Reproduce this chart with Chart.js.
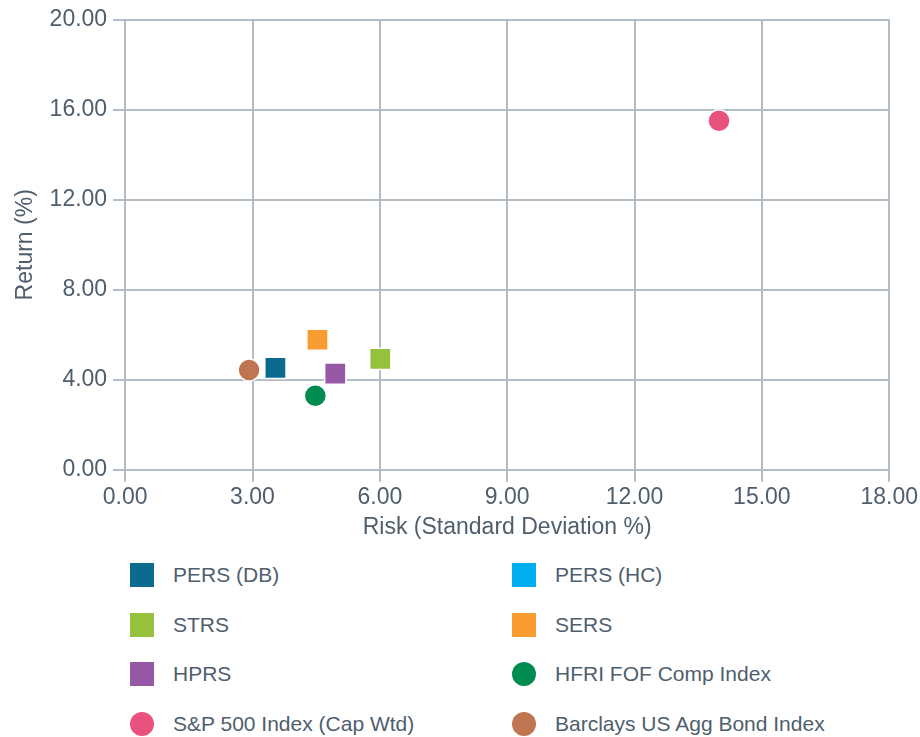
<!DOCTYPE html>
<html>
<head>
<meta charset="utf-8">
<script src="https://cdn.jsdelivr.net/npm/chart.js@4.4.0/dist/chart.umd.min.js"></script>
<style>
  body { margin: 0; background: #fff; font-family: "Liberation Sans", Arial, sans-serif; }
  #wrap { position: relative; width: 920px; height: 545px; }
  #leyenda { position: relative; width: 920px; height: 192px; }
  .item { position: absolute; display: flex; align-items: center; font-size: 21px; color: #4f5e6d; }
  .marca { width: 24px; height: 24px; margin-right: 19px; }
</style>
</head>
<body>
<div id="wrap"><canvas id="chart1"></canvas></div>
<div id="leyenda"></div>
<script>
// Series (riesgo x, retorno y)
const nombres = ['PERS (DB)', 'PERS (HC)', 'STRS', 'SERS', 'HPRS', 'HFRI FOF Comp Index', 'S&P 500 Index (Cap Wtd)', 'Barclays US Agg Bond Index'];
const riesgo = [3.54, null, 6.01, 4.53, 4.95, 4.48, 13.99, 2.92];
const retorno = [4.53, null, 4.93, 5.78, 4.27, 3.29, 15.51, 4.44];
const colores = ['#0a6b8f', '#00aeef', '#95c13d', '#f99d33', '#9657a5', '#008c50', '#e9527f', '#c07551'];
const formas = ['rect', 'rect', 'rect', 'rect', 'rect', 'circle', 'circle', 'circle'];

const ticksX = [0, 3, 6, 9, 12, 15, 18];
const ticksY = [0, 4, 8, 12, 16, 20];

const colorTexto = '#4f5e6d';
const colorGrid = '#b3bcc5';
const fuente = { size: 23, family: 'Liberation Sans' };

const datasets = nombres.map((n, i) => ({
  label: n,
  data: riesgo[i] == null ? [] : [{ x: riesgo[i], y: retorno[i] }],
  backgroundColor: colores[i],
  borderColor: '#ffffff',
  borderWidth: 1.5,
  pointStyle: formas[i],
  pointRadius: formas[i] === 'rect' ? 15 : 11,
  pointHoverRadius: 15
}));

const ctx = document.getElementById('chart1').getContext('2d');
const chart1 = new Chart(ctx, {
  type: 'scatter',
  data: { datasets },
  options: {
    responsive: true,
    maintainAspectRatio: false,
    animation: false,
    layout: { padding: { top: 8, right: 2, left: 8, bottom: 4 } },
    plugins: { legend: { display: false }, tooltip: { enabled: false } },
    scales: {
      x: {
        min: 0, max: 18,
        afterBuildTicks: ax => { ax.ticks = ticksX.map(v => ({ value: v })); },
        ticks: { color: colorTexto, font: fuente, callback: v => v.toFixed(2), maxRotation: 0, padding: 2 },
        grid: { color: colorGrid, lineWidth: 2, tickLength: 12 },
        border: { color: colorGrid, width: 2 },
        title: { display: true, text: 'Risk (Standard Deviation %)', color: colorTexto, font: fuente, padding: { top: 0, bottom: 0 } }
      },
      y: {
        min: 0, max: 20,
        afterBuildTicks: ax => { ax.ticks = ticksY.map(v => ({ value: v })); },
        ticks: { color: colorTexto, font: fuente, callback: v => v.toFixed(2), padding: 6 },
        grid: { color: colorGrid, lineWidth: 2, tickLength: 12 },
        border: { color: colorGrid, width: 2 },
        title: { display: true, text: 'Return (%)', color: colorTexto, font: fuente, padding: { bottom: 4 } }
      }
    }
  }
});

// Leyenda en dos columnas
const leyenda = document.getElementById('leyenda');
nombres.forEach((n, i) => {
  const col = i % 2, fila = Math.floor(i / 2);
  const el = document.createElement('div');
  el.className = 'item';
  el.style.left = (col === 0 ? 130 : 512) + 'px';
  el.style.top = (18 + fila * 49.5) + 'px';
  const m = document.createElement('span');
  m.className = 'marca';
  m.style.background = colores[i];
  if (formas[i] === 'circle') m.style.borderRadius = '50%';
  const t = document.createElement('span');
  t.textContent = n;
  el.appendChild(m);
  el.appendChild(t);
  leyenda.appendChild(el);
});
</script>
</body>
</html>
